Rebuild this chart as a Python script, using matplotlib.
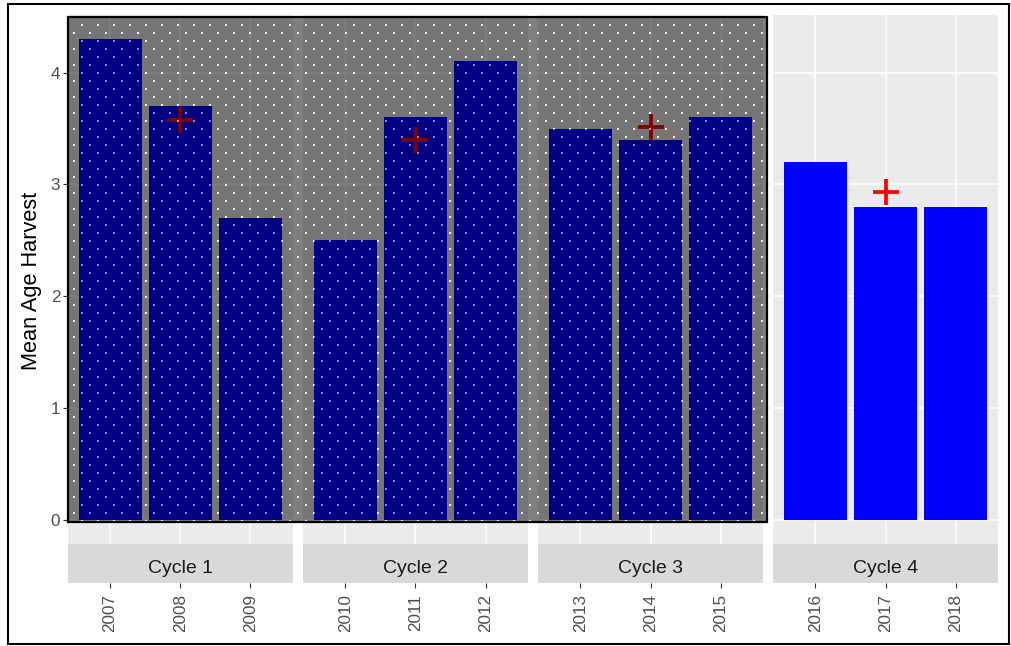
import numpy as np
import matplotlib
matplotlib.use('Agg')
import matplotlib.pyplot as plt
from matplotlib.patches import Rectangle

plt.rcParams['font.family'] = ['Liberation Sans', 'DejaVu Sans']

# data
cycles = ['Cycle 1', 'Cycle 2', 'Cycle 3', 'Cycle 4']
years = [['2007', '2008', '2009'],
         ['2010', '2011', '2012'],
         ['2013', '2014', '2015'],
         ['2016', '2017', '2018']]
mean_age = [[4.3, 3.7, 2.7],
            [2.5, 3.6, 4.1],
            [3.5, 3.4, 3.6],
            [3.2, 2.8, 2.8]]
cross_years = ['2008', '2011', '2014', '2017']
cross_values = [3.58, 3.40, 3.51, 2.93]
y_ticks = [0, 1, 2, 3, 4]

W, H = 1011, 646
fig = plt.figure(figsize=(W / 100, H / 100), dpi=100)
fig.patch.set_facecolor('white')


def fig_rect(x0, y0, x1, y1):
    """pixel box (top-left origin) -> figure fraction [l, b, w, h]"""
    return [x0 / W, 1 - y1 / H, (x1 - x0) / W, (y1 - y0) / H]


panel_w = 224.6
panel_step = 235.1
panel_top, panel_bot = 15, 544
strip_bot = 583

ymax = max(max(v) for v in mean_age)
pad = 0.05 * ymax

for i, cyc in enumerate(cycles):
    x0 = 68 + i * panel_step
    ax = fig.add_axes(fig_rect(x0, panel_top, x0 + panel_w, panel_bot))
    ax.set_facecolor('#EBEBEB')
    pos = np.arange(len(years[i]))
    ax.bar(pos, mean_age[i], width=0.9, color='#0000FF', zorder=2)
    for yr, cv in zip(cross_years, cross_values):
        if yr in years[i]:
            ax.plot(years[i].index(yr), cv, marker='+', color='#FF0000',
                    markersize=19, markeredgewidth=2.7, zorder=3)
    ax.set_xlim(-0.6, len(years[i]) - 0.4)
    ax.set_ylim(-pad, ymax + pad)
    ax.set_xticks(pos)
    ax.set_yticks(y_ticks)
    ax.grid(True, color='white', linewidth=1.1)
    ax.set_axisbelow(True)
    for s in ax.spines.values():
        s.set_visible(False)
    ax.tick_params(axis='x', length=0, labelbottom=False)
    if i == 0:
        ax.tick_params(axis='y', length=3.6, width=0.8, color='#333333',
                       labelcolor='#4D4D4D', labelsize=12.3, pad=2)
    else:
        ax.tick_params(axis='y', length=0, labelleft=False)

    # strip under the panel with the year ticks below it
    sax = fig.add_axes(fig_rect(x0, panel_bot, x0 + panel_w, strip_bot))
    sax.set_facecolor('#D9D9D9')
    for s in sax.spines.values():
        s.set_visible(False)
    sax.set_xlim(-0.6, len(years[i]) - 0.4)
    sax.set_ylim(0, 1)
    sax.set_yticks([])
    sax.set_xticks(pos)
    sax.set_xticklabels(years[i], rotation=90)
    sax.tick_params(axis='x', length=3.6, width=0.8, color='#333333',
                    labelcolor='#4D4D4D', labelsize=12.3, pad=4.5)
    sax.text(0.5, 0.36, cyc, transform=sax.transAxes, ha='center', va='center',
             fontsize=14, color='#1A1A1A')

fig.text(32 / W, 1 - 281 / H, 'Mean Age Harvest', rotation=90,
         ha='center', va='center', fontsize=15.7, color='black')

# dotted dark overlay over cycles 1-3, and the frame round the picture
over = fig.add_axes([0, 0, 1, 1], zorder=5)
over.set_xlim(0, W)
over.set_ylim(H, 0)
over.axis('off')
over.patch.set_alpha(0)

ox0, oy0, ox1, oy1 = 68, 17, 767, 522
img = np.zeros((oy1 - oy0, ox1 - ox0, 4))
img[..., 3] = 0.5
for k, ry in enumerate(range(7, oy1 - oy0 - 1, 8)):
    start = 13 if k % 2 == 0 else 5
    for cx in range(start, ox1 - ox0 - 1, 16):
        img[ry:ry + 2, cx:cx + 2, :3] = 1.0
over.imshow(img, extent=(ox0, ox1, oy1, oy0), aspect='auto',
            interpolation='nearest', zorder=1)
over.add_patch(Rectangle((ox0, oy0), ox1 - ox0, oy1 - oy0, fill=False,
                         edgecolor='black', linewidth=1.6, zorder=2))
over.add_patch(Rectangle((8, 4), 1001, 640, fill=False,
                         edgecolor='black', linewidth=1.5, zorder=2))

fig.savefig('out.png', dpi=100)
